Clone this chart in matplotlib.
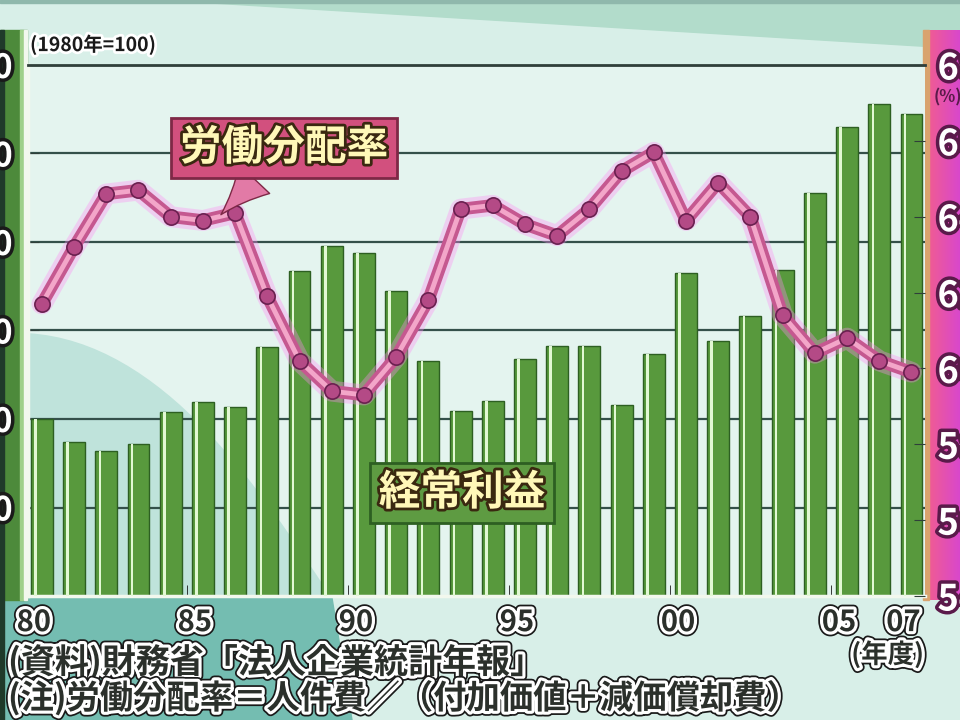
import numpy as np
import matplotlib
matplotlib.use("Agg")
import matplotlib.pyplot as plt
from matplotlib import patheffects as pe
from matplotlib.patches import Rectangle, Polygon, PathPatch
from matplotlib.path import Path
from matplotlib.ticker import FixedLocator

plt.rcParams['font.family'] = ['Noto Sans CJK JP', 'DejaVu Sans']

# --------------------------------------------------------------------------- #
# Data                                                  #
# --------------------------------------------------------------------------- #

years = list(range(1980, 2008))

# 経常利益 index, 1980 = 100
profit_index = [100.0, 86.9, 81.8, 85.8, 104.0, 109.7, 106.8, 140.9, 183.5, 197.7,
                193.8, 172.2, 133.0, 104.5, 110.2, 134.1, 141.5, 141.5, 108.0, 137.0,
                182.4, 144.3, 158.0, 184.1, 227.8, 264.8, 277.8, 272.2]

# 労働分配率 (%)
labor_share = [61.7, 63.2, 64.6, 64.7, 64.0, 63.9, 64.1, 61.9, 60.2, 59.4,
               59.3, 60.3, 61.8, 64.2, 64.3, 63.8, 63.5, 64.2, 65.2, 65.7,
               63.9, 64.9, 64.0, 61.4, 60.4, 60.8, 60.2, 59.9]

left_ticks = [50, 100, 150, 200, 250, 300]
right_ticks = [54, 56, 58, 60, 62, 64, 66, 68]
year_ticks = [1980, 1985, 1990, 1995, 2000, 2005, 2007]
year_labels = ["80", "85", "90", "95", "00", "05", "07"]

W, H = 960, 720

# --------------------------------------------------------------------------- #
# Background (TV graphic look)                                                 #
# --------------------------------------------------------------------------- #

fig = plt.figure(figsize=(9.6, 7.2), dpi=100)
fig.patch.set_facecolor('#d8efe8')

bg = fig.add_axes([0, 0, 1, 1])
bg.set_zorder(-1)
bg.set_xlim(0, W)
bg.set_ylim(H, 0)
bg.axis('off')

bg.add_patch(Rectangle((0, 0), W, H, color='#d8efe8'))
bg.add_patch(Polygon([(170, 0), (W, 0), (W, 48)], color='#b2dccb'))
bg.add_patch(Rectangle((0, 0), W, 3, color='#8fb8ac'))
bg.add_patch(Polygon([(0, 598), (332, 598), (352, H), (0, H)], color='#74bdb1'))

# left (green) panel
bg.add_patch(Rectangle((0, 30), 27, 570, color='#4d8a3b'))
bg.add_patch(Rectangle((0, 30), 4, 690, color='#1f3a2a'))
bg.add_patch(Rectangle((20, 30), 3, 570, color='#9fd08a'))
bg.add_patch(Rectangle((24, 30), 3, 570, color='#f2f8ee'))

# right (pink) panel
grad = np.linspace(0, 1, 64)[None, :, None]
c0 = np.array([0.94, 0.36, 0.58])
c1 = np.array([0.85, 0.28, 0.80])
bg.imshow(c0 + (c1 - c0) * grad, extent=(929, W, 600, 30), aspect='auto', zorder=2)
bg.add_patch(Rectangle((923, 30), 6, 570, color='#d9a36e', zorder=3))

# --------------------------------------------------------------------------- #
# Main axes                                                                    #
# --------------------------------------------------------------------------- #

x0, x1, y0, y1 = 28, 925, 65, 596
ax = fig.add_axes([x0 / W, 1 - y1 / H, (x1 - x0) / W, (y1 - y0) / H])
ax.set_facecolor('#e4f4ef')
ax.set_xlim(1979.57, 2007.42)
ax.set_ylim(0, 300)

# curved teal shape in the lower-left of the plot area
shape = Path([(0, 0.495), (0.15, 0.48), (0.26, 0.20), (0.337, 0.0), (0, 0), (0, 0.495)],
             [Path.MOVETO, Path.CURVE4, Path.CURVE4, Path.CURVE4, Path.LINETO, Path.CLOSEPOLY])
ax.add_patch(PathPatch(shape, transform=ax.transAxes, fc='#bfe3db', ec='none', zorder=0))

ax.set_axisbelow(True)
ax.yaxis.set_major_locator(FixedLocator(left_ticks))
ax.grid(axis='y', color='#34504a', linewidth=1.6, zorder=1)

ax.bar(years, profit_index, width=0.68, color='#58993d', edgecolor='#2d5f22',
       linewidth=1.0, zorder=2)
ax.bar(np.array(years) - 0.2, profit_index, width=0.08, color='#e2f8d4',
       linewidth=0, zorder=3)

for side in ('left', 'bottom'):
    ax.spines[side].set_color('#f2f8ee')
    ax.spines[side].set_linewidth(2.5)
ax.spines['top'].set_color('#2f3f3a')
ax.spines['top'].set_linewidth(2)
ax.spines['right'].set_visible(False)

outline = [pe.Stroke(linewidth=5, foreground='#1a1a1a'), pe.Normal()]
ax.tick_params(axis='y', direction='in', length=8, color='#2f3f3a', pad=11,
               labelsize=24, labelcolor='white')
for lab in ax.get_yticklabels():
    lab.set_fontweight('bold')
    lab.set_path_effects(outline)

# year labels sit slightly left of their bars in the original
ax.set_xticks([y - 0.25 for y in year_ticks])
ax.set_xticklabels(year_labels)
ax.set_xticks([y - 0.5 for y in year_ticks[:-1] if y > 1980], minor=True)
ax.tick_params(axis='x', which='major', length=0, pad=8, labelsize=21,
               labelcolor='#2b302b')
ax.tick_params(axis='x', which='minor', direction='in', length=8, color='#1a1a1a')
tick_fx = [pe.Stroke(linewidth=7, foreground='#1a1a1a'),
           pe.Stroke(linewidth=4.5, foreground='white'), pe.Normal()]
for lab in ax.get_xticklabels():
    lab.set_fontweight('bold')
    lab.set_path_effects(tick_fx)

# --------------------------------------------------------------------------- #
# Right axis: labour share line                                                #
# --------------------------------------------------------------------------- #

ax2 = ax.twinx()
ax2.set_ylim(54, 68)
ax2.set_yticks(right_ticks)
for s in ax2.spines.values():
    s.set_visible(False)
ax2.tick_params(axis='y', direction='in', length=8, color='#2f3f3a', pad=9,
                labelsize=26, labelcolor='white')
for lab in ax2.get_yticklabels():
    lab.set_fontweight('bold')
    lab.set_path_effects([pe.Stroke(linewidth=5, foreground='#5a1a4a'), pe.Normal()])

ax2.plot(years, labor_share, color='#ff8cf4', linewidth=15, alpha=0.35,
         solid_capstyle='round', solid_joinstyle='round', zorder=2)
ax2.plot(years, labor_share, color='#c55890', linewidth=9,
         solid_capstyle='round', solid_joinstyle='round', zorder=3)
ax2.plot(years, labor_share, color='#f3a6c9', linewidth=3.5,
         solid_capstyle='round', solid_joinstyle='round', zorder=4)
ax2.plot(years, labor_share, 'o', markersize=11, markerfacecolor='#b44a86',
         markeredgecolor='#6a2050', markeredgewidth=1.2, zorder=5)

label_fx = [pe.Stroke(linewidth=4, foreground='#3a2810'), pe.Normal()]
ax2.annotate('労働分配率', xy=(years[5] + 0.5, (labor_share[5] + labor_share[6]) / 2),
             xycoords='data', xytext=(284 / W, 1 - 148 / H), textcoords='figure fraction',
             ha='center', va='center', fontsize=30, fontweight='bold', color='#fff8b8',
             path_effects=label_fx, zorder=10,
             bbox=dict(boxstyle='square,pad=0.22', fc='#d2507e', ec='#7e2846', lw=2),
             arrowprops=dict(arrowstyle='wedge,tail_width=1.0,shrink_factor=0.4',
                             fc='#e27aa6', ec='#7e2846', lw=1, shrinkA=0, shrinkB=2))

ax2.text(462 / W, 1 - 493 / H, '経常利益', transform=fig.transFigure,
         ha='center', va='center', fontsize=30, fontweight='bold', color='#fff8b8',
         path_effects=label_fx, zorder=10,
         bbox=dict(boxstyle='square,pad=0.22', fc='#5e9b42', ec='#2d5f22', lw=2))

# --------------------------------------------------------------------------- #
# Other text                                                                   #
# --------------------------------------------------------------------------- #

small_fx = [pe.Stroke(linewidth=4, foreground='white'), pe.Normal()]
fig.text(30 / W, 1 - 45 / H, '(1980年=100)', ha='left', va='center', fontsize=14,
         fontweight='bold', color='#1a1a1a', path_effects=small_fx)
fig.text(934 / W, 1 - 97 / H, '(%)', ha='left', va='center', fontsize=12,
         fontweight='bold', color='#5a1a4a')

note_fx = [pe.Stroke(linewidth=7, foreground='#1a1a1a'),
           pe.Stroke(linewidth=4.5, foreground='white'), pe.Normal()]
fig.text(924 / W, 1 - 655 / H, '(年度)', ha='right', va='center', fontsize=19,
         fontweight='bold', color='#2b302b', path_effects=note_fx)
fig.text(8 / W, 1 - 662 / H, '(資料)財務省「法人企業統計年報」', ha='left', va='center',
         fontsize=24.5, fontweight='bold', color='#2b302b', path_effects=note_fx)
fig.text(8 / W, 1 - 698 / H, '(注)労働分配率＝人件費／（付加価値＋減価償却費）',
         ha='left', va='center', fontsize=24, fontweight='bold', color='#2b302b',
         path_effects=note_fx)

fig.savefig('out.png', dpi=100)
